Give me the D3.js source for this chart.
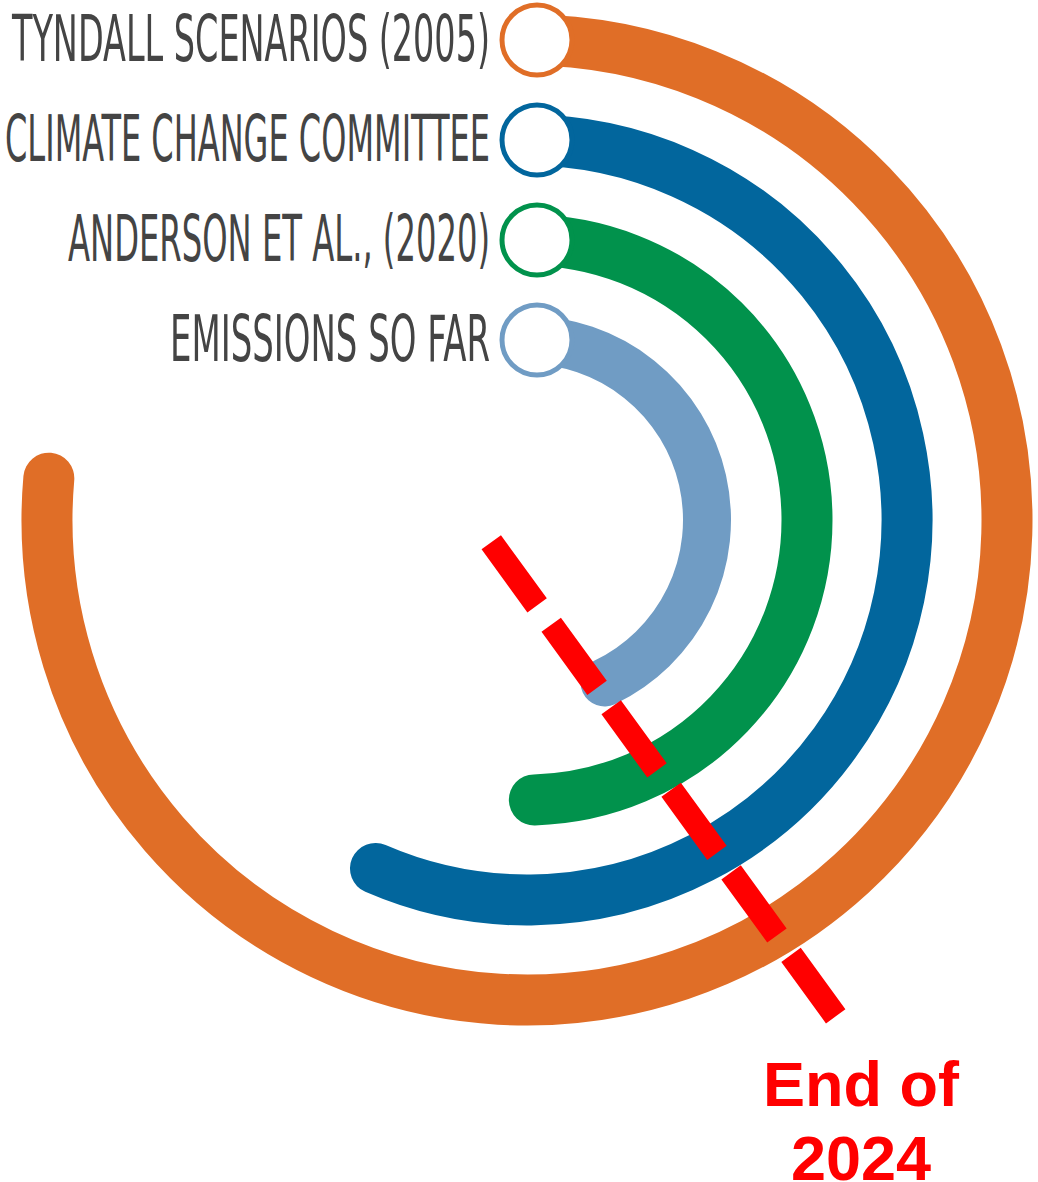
<!DOCTYPE html>
<html><head><meta charset="utf-8">
<script src="https://cdn.jsdelivr.net/npm/d3@7"></script>
<style>html,body{margin:0;padding:0;background:#fff;overflow:hidden}</style>
</head><body>
<svg id="chart" width="1038" height="1182"></svg>
<script>
// ---- data ----
const categories = ["TYNDALL SCENARIOS (2005)", "CLIMATE CHANGE COMMITTEE", "ANDERSON ET AL., (2020)", "EMISSIONS SO FAR"];
const budgetShare = [275, 203.5, 178.5, 154.5];   // arc extent, degrees of a full turn
const seriesColors = ["#E06E27", "#02669D", "#01924C", "#709CC4"];
const labelWidths = [478, 485, 422, 320];
const markerValue = [144];                          // "End of 2024" marker angle
const markerLabel = ["End of", "2024"];

const svg = d3.select("#chart");
const cx = 527, cy = 520;

const angle = d3.scaleLinear().domain([0, 360]).range([0, 2 * Math.PI]);
const radius = d3.scalePoint().domain(categories).range([480, 180]);

const g = svg.append("g").attr("transform", `translate(${cx},${cy})`);

const rows = categories.map((c, i) => ({cat: c, v: budgetShare[i], color: seriesColors[i], w: labelWidths[i]}));

g.selectAll("path.ring").data(rows).join("path")
  .attr("class", "ring")
  .attr("d", d => {
    const r = radius(d.cat);
    const p = d3.path();
    p.arc(0, 0, r, -Math.PI / 2, angle(d.v) - Math.PI / 2);
    return p.toString();
  })
  .attr("fill", "none")
  .attr("stroke", d => d.color)
  .attr("stroke-width", (d, i) => i === 3 ? 48 : 51)
  .attr("stroke-linecap", "round");

g.selectAll("circle.start").data(rows).join("circle")
  .attr("class", "start")
  .attr("cx", 10).attr("cy", d => -radius(d.cat))
  .attr("r", 35)
  .attr("fill", "#fff")
  .attr("stroke", d => d.color)
  .attr("stroke-width", 5);

g.selectAll("text.lab").data(rows).join("text")
  .attr("class", "lab")
  .attr("x", -37)
  .attr("y", d => -radius(d.cat) + 21)
  .attr("text-anchor", "end")
  .attr("font-family", "'Liberation Sans Narrow','DejaVu Sans Condensed','Roboto Condensed',sans-serif")
  .attr("font-size", 64)
  .attr("fill", "#444")
  .attr("textLength", d => d.w)
  .attr("lengthAdjust", "spacingAndGlyphs")
  .text(d => d.cat);

// End-of-2024 marker: dashed ray
const th = angle(markerValue[0]);
const dir = [Math.sin(th), -Math.cos(th)];
const nrm = [-dir[1], dir[0]];
const off = 42;
const t0 = -3, t1 = 583;
g.append("line")
  .attr("x1", off * nrm[0] + t0 * dir[0]).attr("y1", off * nrm[1] + t0 * dir[1])
  .attr("x2", off * nrm[0] + t1 * dir[0]).attr("y2", off * nrm[1] + t1 * dir[1])
  .attr("stroke", "#FF0000")
  .attr("stroke-width", 24)
  .attr("stroke-dasharray", "78 24");

svg.selectAll("text.mk").data(markerLabel).join("text")
  .attr("class", "mk")
  .attr("x", 861)
  .attr("y", (d, i) => 1106 + i * 74)
  .attr("text-anchor", "middle")
  .attr("font-family", "'Liberation Sans',Arial,sans-serif")
  .attr("font-weight", "bold")
  .attr("font-size", 63)
  .attr("fill", "#FF0000")
  .text(d => d);
</script>
</body></html>
